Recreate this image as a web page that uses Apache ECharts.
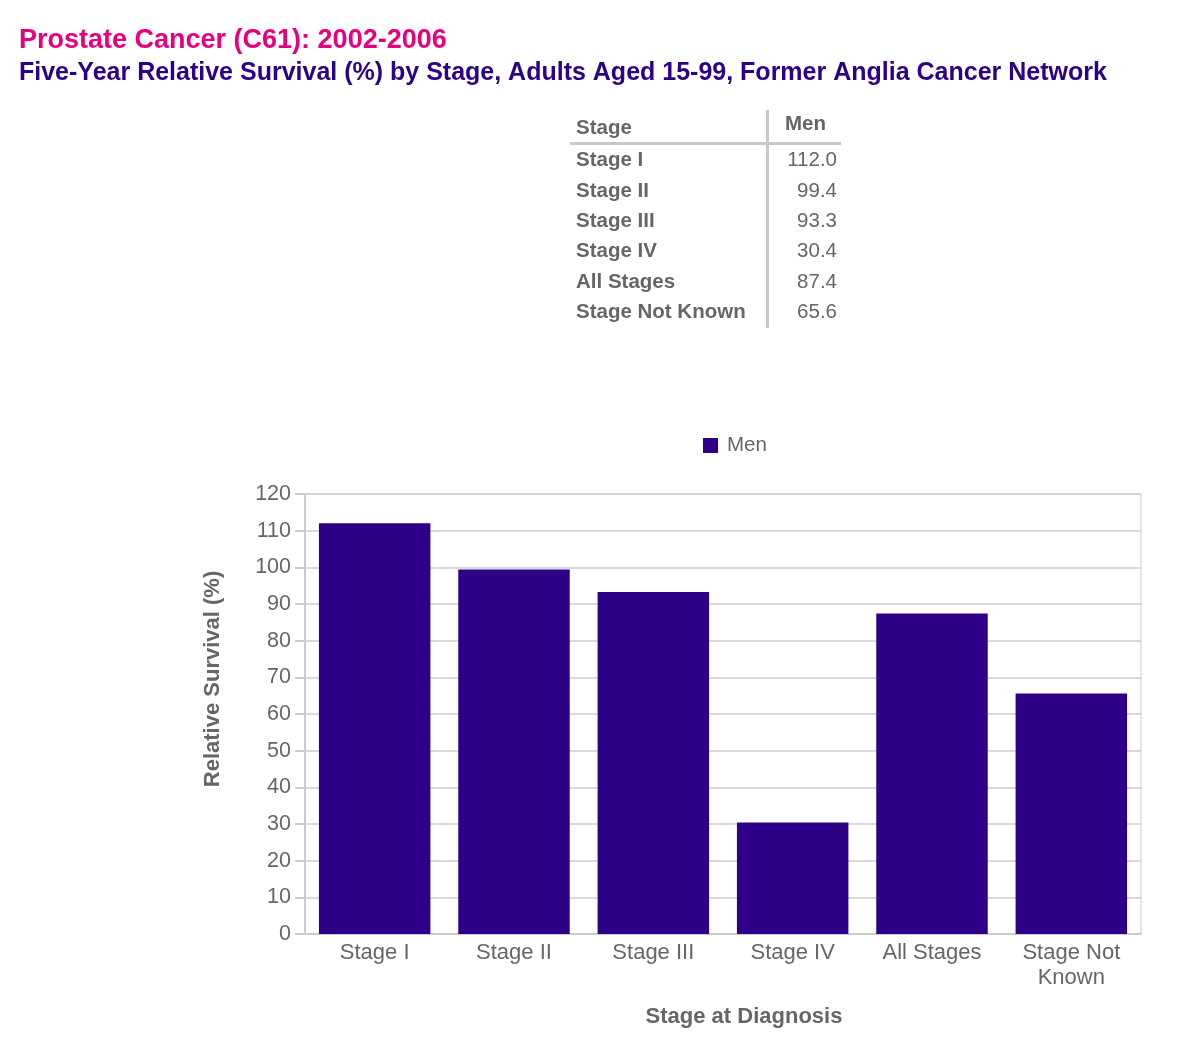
<!DOCTYPE html>
<html>
<head>
<meta charset="utf-8">
<script src="https://cdn.jsdelivr.net/npm/echarts@6/dist/echarts.min.js"></script>
<style>
  html, body { margin: 0; padding: 0; background: #fff; }
  #chart { width: 1202px; height: 1046px; }
</style>
</head>
<body>
<div id="chart"></div>
<script>
const stages = ["Stage I", "Stage II", "Stage III", "Stage IV", "All Stages", "Stage Not Known"];
const axisLabels = ["Stage I", "Stage II", "Stage III", "Stage IV", "All Stages", "Stage Not\nKnown"];
const men = [112.0, 99.4, 93.3, 30.4, 87.4, 65.6];

const grey = "#666";
const font = "Liberation Sans, Arial, sans-serif";

// table + axis names drawn as graphic text
const graphic = [
  { type: "text", left: 576, top: 118, style: { text: "Stage", font: "bold 20.5px " + font, fill: grey } },
  { type: "text", left: 785, top: 114, style: { text: "Men", font: "bold 20.5px " + font, fill: grey } },
  { type: "rect", shape: { x: 570, y: 142, width: 271, height: 3 }, style: { fill: "#c8c8c8" } },
  { type: "rect", shape: { x: 766, y: 110, width: 3, height: 218 }, style: { fill: "#c8c8c8" } },
  { type: "text", x: 744, y: 1017, style: { text: "Stage at Diagnosis", font: "bold 22px " + font, fill: grey, align: "center", verticalAlign: "middle" } },
  { type: "text", x: 213, y: 679, rotation: Math.PI / 2, style: { text: "Relative Survival (%)", font: "bold 22px " + font, fill: grey, align: "center", verticalAlign: "middle" } },
];
stages.forEach((s, i) => {
  const y = 150 + i * 30.4;
  graphic.push({ type: "text", left: 576, top: y, style: { text: s, font: "bold 20.5px " + font, fill: grey } });
  graphic.push({ type: "text", right: 1202 - 837, top: y, style: { text: men[i].toFixed(1), font: "20.5px " + font, fill: grey, align: "right" } });
});

const chart = echarts.init(document.getElementById("chart"));
chart.setOption({
  animation: false,
  textStyle: { fontFamily: font },
  title: [
    { text: "Prostate Cancer (C61): 2002-2006", left: 14, top: 22,
      textStyle: { color: "#e6007e", fontSize: 27, fontWeight: "bold", fontFamily: font } },
    { text: "Five-Year Relative Survival (%) by Stage, Adults Aged 15-99, Former Anglia Cancer Network", left: 14, top: 56,
      textStyle: { color: "#2e0087", fontSize: 25, fontWeight: "bold", fontFamily: font } },
  ],
  legend: {
    data: ["Men"], top: 435, left: 703, padding: 0, itemWidth: 15, itemHeight: 15, itemGap: 8,
    icon: "rect",
    textStyle: { color: grey, fontSize: 20.5, fontFamily: font, padding: [4, 0, 0, 4] }
  },
  graphic: graphic,
  grid: { left: 305, right: 61, top: 494, bottom: 112, show: true, borderColor: "#ccc", borderWidth: 1 },
  xAxis: {
    type: "category",
    data: axisLabels,
    axisLine: { lineStyle: { color: "#ccc", width: 2 } },
    axisTick: { length: 9, lineStyle: { color: "#ccc", width: 2 } },
    axisLabel: { color: grey, fontSize: 22, margin: 6, lineHeight: 25, fontFamily: font, interval: 0 }
  },
  yAxis: {
    type: "value",
    min: 0, max: 120, interval: 10,
    axisLine: { show: true, lineStyle: { color: "#ccc", width: 2 } },
    axisTick: { show: true, length: 10, lineStyle: { color: "#ccc", width: 2 } },
    axisLabel: { color: grey, fontSize: 21.5, margin: 14, fontFamily: font },
    splitLine: { lineStyle: { color: "#ccc", width: 1.5 } }
  },
  series: [{
    name: "Men",
    type: "bar",
    data: men,
    barCategoryGap: "20%",
    itemStyle: { color: "#2e0087" }
  }]
});
</script>
</body>
</html>
